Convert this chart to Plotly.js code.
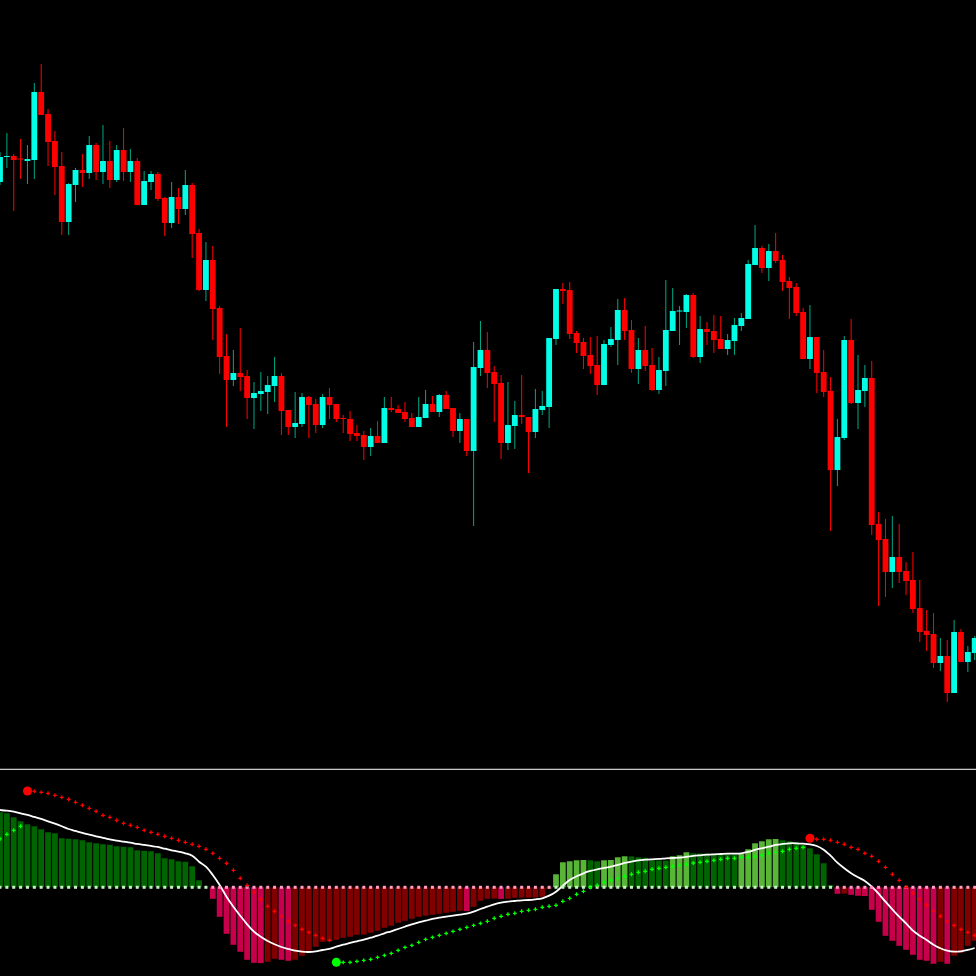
<!DOCTYPE html>
<html>
<head>
<meta charset="utf-8">
<script src="https://cdn.plot.ly/plotly-3.0.1.min.js"></script>
<style>
  html, body { margin: 0; padding: 0; background: #000; }
  #chart { width: 976px; height: 976px; }
</style>
</head>
<body>
<div id="chart"></div>
<script>
// price candles, one per bar (index 0 .. 142)
const openP = [618,643,644,641,639,640,708,686,659,634,578,615,630,627,655,628,639,620,650,628,
  639,595,618,626,602,577,603,591,615,567,510,540,492,444,420,427,424,402,406,408,
  414,424,390,373,376,403,396,375,403,396,382,381,367,365,353,364,357,392,391,388,
  382,373,382,396,388,405,392,369,381,349,432,450,428,417,357,374,385,383,368,390,
  393,461,511,510,467,458,445,435,415,455,460,490,470,431,450,435,410,429,469,488.5,
  488,505,443,471,469,461,451,459,474,481,535,552,532,549,540,519,513,488,441,463,
  428,409,330,362,460,397,409,422,276,261,228,243,229,220,192,169,166,137,144,107,
  168,138,147];
const highP = [648,667,646,661,655,717,736,691,669,648,617,632,646,664,657,675,659,655,672,651,
  642,629,629,628,603,618,612,630,617,571,558,554,494,466,450,472,430,418,428,424,
  443,427,390,408,407,404,401,406,412,396,385,389,375,369,372,379,403,403,395,398,
  387,403,410,404,406,409,392,387,381,458,479,468,434,425,418,399,425,383,411,409,
  462,511,517,518,469,462,463,464,460,473,501,502,480,462,474,452,443,520,512,494,
  506,507,484,478,485,484,466,482,487,540,575,554,556,567,545,523,517,492,495,463,
  450,423,381,464,481,445,435,439,288,281,284,276,238,248,220,190,187,162,160,180,
  171,154,164];
const lowP = [615,632,589,621,616,621,685,634,605,565,565,598,613,621,620,616,612,618,619,618,
  595,595,610,599,564,572,576,585,542,509,499,460,426,373,414,409,381,371,389,386,
  398,365,365,362,373,362,367,372,381,378,367,359,359,340,344,357,357,388,387,378,
  373,373,382,388,383,391,363,357,344,274,424,412,378,341,350,351,376,327,362,385,
  372,455,496,461,447,431,426,405,415,453,435,460,427,416,429,409,406,414,469,455,
  472,442,437,455,447,451,445,445,469,481,535,527,519,537,509,481,484,441,431,407,
  403,269,314,360,396,371,393,265,194,203,212,217,205,187,158,149,132,129,98,107,
  138,128,140];
const closeP = [643,644,640,640.5,641,708,685,658,633,578,616,630,627,655,628,639,620,650,628,639,
  595,619,626,601,577,603,591,615,566,510,540,491,443,420,427,423,402,407,409,415,
  424,389,373,377,403,395,375,403,395,381,381,366,364,353,364,357,392,390,387,381,
  373,383,396,388,405,391,369,381,349,433,450,427,416,357,375,385,383,368,391,394,
  462,511,509,466,457,444,434,415,456,461,490,469,431,450,434,410,430,470,489,489,
  505,443,471,468,460,451,460,475,482,536,552,532,549,539,518,512,487,441,463,427,
  408,330,363,460,397,410,422,275,260,228,243,228,219,191,168,165,137,144,107,168,
  138,148,162];

// oscillator histogram
const hist = [75,74,70,66,63,61,58,55,54,49,48.5,48,47,45,44,43,42.5,41,40.5,40,
  37,36.5,36,34,29,28,26,25.5,21,7,0.4,-11.5,-29.5,-46.5,-57.5,-64.5,-72.5,-75.5,-75.8,-74.5,
  -71.5,-72.5,-73.5,-72.5,-68.5,-63.5,-59.5,-54.5,-54,-52.5,-50.5,-49.5,-47.5,-47.3,-45.5,-43.5,-40.5,-38.5,-35.5,-33.5,
  -31.5,-29.5,-28.5,-27.5,-26.5,-25.5,-24.5,-23.5,-23.8,-19.5,-13.5,-11.5,-11.3,-11.6,-11.4,-10.5,-10.4,-10.3,-10.2,-9.5,
  -1.5,13,25,26,27,27.3,27,26,27,27.3,30,31,30.8,30,29.5,27,26.8,26.6,31,32,
  35,34,33.8,33.6,33.4,33.2,33,32.8,33.2,38,44,46,48,48.3,47,46,45,42,39,33,
  24,2,-6.5,-6.3,-7.5,-8.5,-8.7,-22.5,-34.5,-48.5,-53.5,-58.5,-62.5,-67.5,-72.5,-73.5,-76.5,-74.5,-76.5,-68.5,
  -65.5,-58.5,-53.5];

// smoothed signal line
const signal = [77.3,76.6,75.6,74,72.3,70.3,68.3,66,63.6,61,58.3,56.3,54.3,52.6,51,49.3,48,46.6,45.6,44.6,
  43.3,42.3,41.3,40.3,38.6,37,35.6,34,31.6,25.6,20.6,12.3,2.3,-9.4,-19.4,-28.4,-37,-44.4,-49.4,-53.7,
  -57,-59.7,-61.7,-63.4,-64.4,-64.7,-64,-62.7,-61.7,-59.4,-57.4,-55.7,-54,-52.4,-50.4,-48.4,-46,-44,-41.7,-39.4,
  -37,-35,-33.4,-31.7,-30.4,-29.4,-28.4,-27.4,-26.4,-24.4,-21.7,-19.4,-17,-15.4,-14.4,-13.7,-13,-12.7,-12,-11,
  -8.4,-4.4,1.6,7.3,11,14,16.3,18,19.3,20.6,22.3,24.3,25.6,27,27.6,28,28.3,29,29.3,29.6,
  30.3,31.3,32,32.6,33,33.3,33.6,33.6,34,35.3,37.3,39,40.6,42.3,43.3,44,44,43.6,43,41.3,
  37.6,31.6,24.6,19,14,10,6.3,0.6,-6.4,-14.4,-22,-29.4,-36,-43.4,-48.4,-52.7,-57.4,-61,-63.4,-64.4,
  -64,-62.7,-60.7];

const _ = null;
// trailing levels: red above price (down trend), green below (up trend)
const redStop = [_,_,_,_,96.3,96,95,94,92,90,88,85,82,79,76,72,70,67,64,62,
  60,57,55,53,51,49,47,45,43,41,38,34,29,24,17,9,2,-5,-12,-19,
  -24,-29,-34,-38,-42,-45,-48,-51,-53,_,_,_,_,_,_,_,_,_,_,_,
  _,_,_,_,_,_,_,_,_,_,_,_,_,_,_,_,_,_,_,_,
  _,_,_,_,_,_,_,_,_,_,_,_,_,_,_,_,_,_,_,_,
  _,_,_,_,_,_,_,_,_,_,_,_,_,_,_,_,_,_,49,48,
  48,47,45,43,40,38,34,31,26,20,13,7,0,-6,-12,-18,-24,-29,-34,-38,
  -42,-45,-48];
const greenStop = [48.3,53,57,61,_,_,_,_,_,_,_,_,_,_,_,_,_,_,_,_,
  _,_,_,_,_,_,_,_,_,_,_,_,_,_,_,_,_,_,_,_,
  _,_,_,_,_,_,_,_,_,-75,-75,-75,-74,-73,-72,-70,-68,-66,-63,-60,
  -58,-55,-52,-50,-48,-46,-44,-42,-40,-38,-36,-34,-31,-29,-27,-26,-24,-23,-22,-20,
  -19,-18,-14,-11,-7,-4,0,2,5,7,9,11,13,15,16,18,19,20,21,22,
  23,24.3,25,26,27,28,29,29,30,30,31,32,34,35,36,38,39,40,_,_,
  _,_,_,_,_,_,_,_,_,_,_,_,_,_,_,_,_,_,_,_,
  _,_,_];
// bars where a trailing level starts (signal dots)
const redSignalBars = [4, 118];
const greenSignalBars = [49];

const idx = openP.map((v, i) => i);
const isUp = openP.map((o, i) => closeP[i] >= o);

const wicks = {
  x: idx, base: lowP, y: highP.map((h, i) => h - lowP[i]),
  type: 'bar', width: 0.15, xaxis: 'x', yaxis: 'y',
  marker: { color: isUp.map(u => u ? '#00a382' : '#ff0000'), line: { width: 0 } },
  hoverinfo: 'skip'
};
const bodies = {
  x: idx,
  base: openP.map((o, i) => Math.min(o, closeP[i])),
  y: openP.map((o, i) => Math.max(Math.abs(closeP[i] - o), 1)),
  type: 'bar', width: 0.85, xaxis: 'x', yaxis: 'y',
  marker: { color: isUp.map(u => u ? '#00ffe6' : '#ff0000'), line: { width: 0 } },
  hoverinfo: 'skip'
};

const histColors = hist.map((v, i) => {
  const prev = i > 0 ? hist[i - 1] : v;
  if (v >= 0) return v > prev ? '#58b538' : '#006400';
  return v < prev ? '#c8004b' : '#800000';
});
const histBars = {
  x: idx, y: hist, type: 'bar', width: 0.84, xaxis: 'x2', yaxis: 'y2',
  marker: { color: histColors, line: { width: 0 } }, hoverinfo: 'skip'
};
const zeroDots = {
  x: idx, y: hist.map(() => 0), type: 'scatter', mode: 'markers', xaxis: 'x2', yaxis: 'y2',
  marker: { symbol: 'square', size: 3, color: hist.map(v => v >= 0 ? '#c4f2c0' : '#ffa0c4') },
  hoverinfo: 'skip'
};
const signalLine = {
  x: idx, y: signal, type: 'scatter', mode: 'lines', xaxis: 'x2', yaxis: 'y2',
  line: { color: '#ffffff', width: 1.8, shape: 'spline' }, hoverinfo: 'skip'
};
const redDots = {
  x: idx, y: redStop, type: 'scatter', mode: 'markers', xaxis: 'x2', yaxis: 'y2',
  marker: { symbol: 'cross', size: 3.2, color: '#ff0000' }, hoverinfo: 'skip'
};
const greenDots = {
  x: idx, y: greenStop, type: 'scatter', mode: 'markers', xaxis: 'x2', yaxis: 'y2',
  marker: { symbol: 'cross', size: 3.2, color: '#00ff00' }, hoverinfo: 'skip'
};
const redSignal = {
  x: redSignalBars, y: redSignalBars.map(i => redStop[i]), type: 'scatter', mode: 'markers',
  xaxis: 'x2', yaxis: 'y2', marker: { size: 9, color: '#ff0000' }, hoverinfo: 'skip'
};
const greenSignal = {
  x: greenSignalBars, y: greenSignalBars.map(i => greenStop[i]), type: 'scatter', mode: 'markers',
  xaxis: 'x2', yaxis: 'y2', marker: { size: 9, color: '#00ff00' }, hoverinfo: 'skip'
};

const hidden = { visible: false, showgrid: false, zeroline: false, fixedrange: true };

const layout = {
  width: 976,
  height: 976,
  margin: { t: 0, l: 0, r: 0, b: 0, pad: 0 },
  paper_bgcolor: '#000000',
  plot_bgcolor: '#000000',
  showlegend: false,
  barmode: 'overlay',
  xaxis: Object.assign({}, hidden, { range: [0, 142.19], anchor: 'y' }),
  xaxis2: Object.assign({}, hidden, { range: [0, 142.19], anchor: 'y2' }),
  yaxis: Object.assign({}, hidden, { domain: [0.2131, 1], range: [32, 800] }),
  yaxis2: Object.assign({}, hidden, { domain: [0, 0.2111], range: [-88.7, 117.3] }),
  shapes: [{
    type: 'line', xref: 'paper', yref: 'paper', x0: 0, x1: 1, y0: 0.2118, y1: 0.2118,
    line: { color: '#ffffff', width: 1 }
  }]
};

Plotly.newPlot('chart',
  [wicks, bodies, histBars, signalLine, zeroDots, redDots, greenDots, redSignal, greenSignal],
  layout, { displayModeBar: false, staticPlot: true });
</script>
</body>
</html>
